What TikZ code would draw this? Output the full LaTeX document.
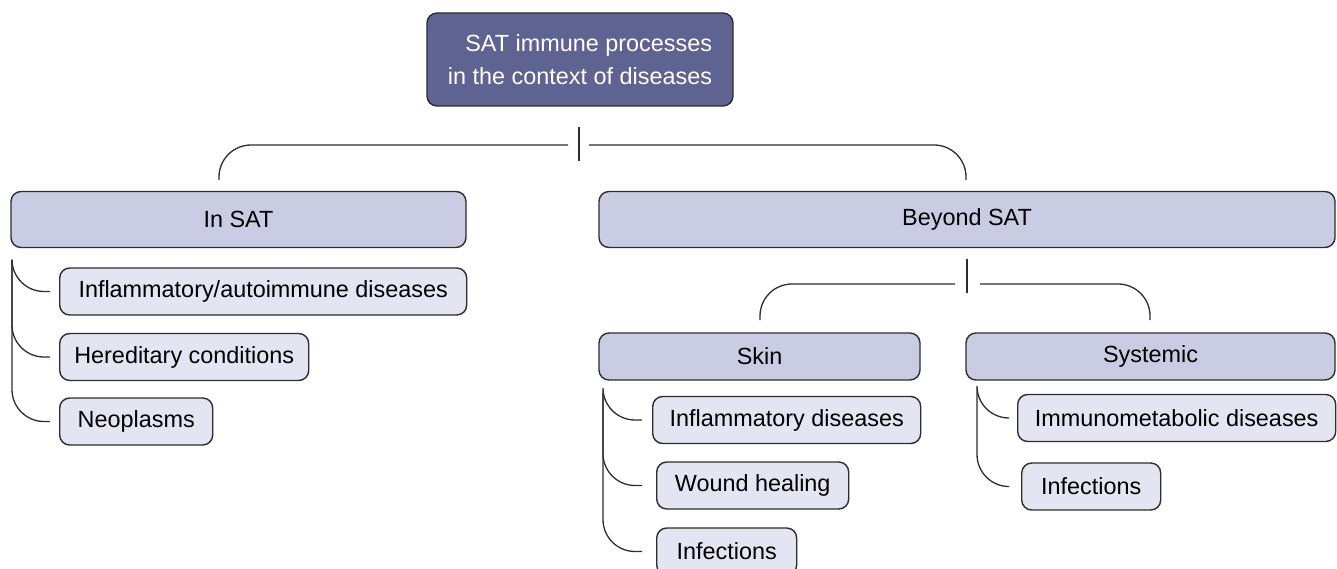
\documentclass[tikz,border=0pt]{standalone}
\usepackage{fontspec}
\setmainfont{Liberation Sans}
\definecolor{rootfill}{RGB}{95,99,145}
\definecolor{midfill}{RGB}{202,204,227}
\definecolor{leaffill}{RGB}{228,229,242}
\definecolor{edge}{RGB}{45,45,45}
\begin{document}
\begin{tikzpicture}[x=1pt,y=-1pt,
  base/.style={draw=edge,line width=1.4pt,rounded corners=10pt,inner sep=0pt,font=\fontsize{23.4}{33}\selectfont},
  rootbox/.style={base,fill=rootfill,text=white,align=right,minimum width=306pt,minimum height=93pt},
  midbox/.style={base,fill=midfill,text=black,minimum height=56pt},
  leafbox/.style={base,fill=leaffill,text=black,minimum height=47pt,anchor=west},
  conn/.style={draw=edge,line width=1.3pt,rounded corners=32pt}]
\useasboundingbox (0,0) rectangle (1337,569);
% nodes
\node[rootbox] (root) at (580,59.5) {SAT immune processes\\in the context of diseases};
\node[midbox,minimum width=455pt] (insat) at (238.5,219.5) {In SAT};
\node[midbox,minimum width=736pt] (beyond) at (967,219.5) {Beyond SAT};
\node[midbox,minimum width=321pt,minimum height=47pt] (skin) at (759.5,356.5) {Skin};
\node[midbox,minimum width=369pt,minimum height=47pt] (systemic) at (1150.5,356.5) {Systemic};
\node[leafbox,minimum width=407pt] (l1) at (59,291.5) {Inflammatory/autoimmune diseases};
\node[leafbox,minimum width=249pt] (l2) at (59,357) {Hereditary conditions};
\node[leafbox,minimum width=153pt] (l3) at (59,421.5) {Neoplasms};
\node[leafbox,minimum width=268pt] (s1) at (652,420) {Inflammatory diseases};
\node[leafbox,minimum width=192pt] (s2) at (656,485.5) {Wound healing};
\node[leafbox,minimum width=140pt] (s3) at (656,551.5) {Infections};
\node[leafbox,minimum width=318pt] (y1) at (1017,418) {Immunometabolic diseases};
\node[leafbox,minimum width=139pt] (y2) at (1021,486.5) {Infections};
% root split
\coordinate (rt1) at (579,127);
\coordinate (rt2) at (579,161);
\coordinate (rl) at (568,145);
\coordinate (rr) at (589,145);
\coordinate (insatIn) at (219,180);
\coordinate (beyondIn) at (966,180);
\draw[conn] (rt1) -- (rt2);
\draw[conn] (rl) -| (insatIn);
\draw[conn] (rr) -| (beyondIn);
% beyond split
\coordinate (bt1) at (967,259);
\coordinate (bt2) at (967,293);
\coordinate (bl) at (955,284);
\coordinate (br) at (980,284);
\coordinate (skinIn) at (760,320);
\coordinate (sysIn) at (1150,320);
\draw[conn] (bt1) -- (bt2);
\draw[conn] (bl) -| (skinIn);
\draw[conn] (br) -| (sysIn);
% In SAT children
\coordinate (ia) at (12,260);
\coordinate (ie) at (50,0);
\draw[conn] (ia) |- (l1.west -| ie);
\draw[conn] (ia) |- (l2.west -| ie);
\draw[conn] (ia) |- (l3.west -| ie);
% Skin children
\coordinate (sa) at (603,393);
\coordinate (se) at (642,0);
\draw[conn] (sa) |- (s1.west -| se);
\draw[conn] (sa) |- (s2.west -| se);
\draw[conn] (sa) |- (s3.west -| se);
% Systemic children
\coordinate (ya) at (977,393);
\coordinate (ye) at (1008,0);
\draw[conn] (ya) |- (y1.west -| ye);
\draw[conn] (ya) |- (y2.west -| ye);
\end{tikzpicture}
\end{document}
